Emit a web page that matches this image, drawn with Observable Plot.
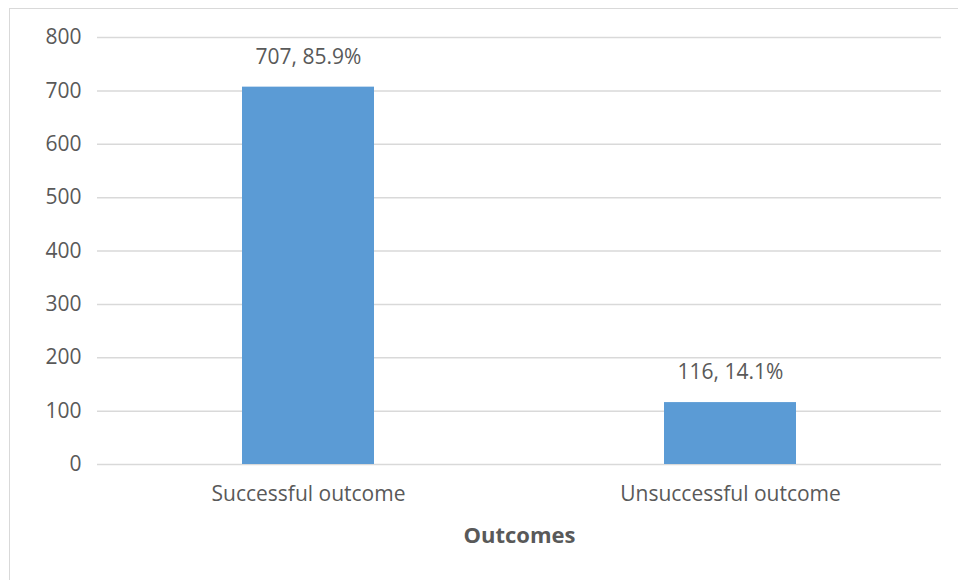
<!DOCTYPE html>
<html>
<head>
<meta charset="utf-8">
<script src="https://cdn.jsdelivr.net/npm/d3@7"></script>
<script src="https://cdn.jsdelivr.net/npm/@observablehq/plot@0.6"></script>
<style>
  html, body { margin: 0; padding: 0; background: #fff; }
  #wrap { position: relative; width: 958px; height: 580px; overflow: hidden; }
  #frame { position: absolute; left: 9px; top: 8px; width: 960px; height: 600px;
           border-top: 1.5px solid #d9d9d9; border-left: 1.5px solid #d9d9d9; box-sizing: border-box; }
  #chart { position: absolute; left: 0; top: 0; }
</style>
</head>
<body>
<div id="wrap"><div id="frame"></div><div id="chart"></div></div>
<script>
const categories = ["Successful outcome", "Unsuccessful outcome"];
const counts = [707, 116];
const percents = ["85.9%", "14.1%"];
const yTicks = [0, 100, 200, 300, 400, 500, 600, 700, 800];

const data = categories.map((c, i) => ({category: c, count: counts[i], label: `${counts[i]}, ${percents[i]}`}));

const font = "'Open Sans', sans-serif";
const textColor = "#595959";

const chart = Plot.plot({
  width: 958,
  height: 580,
  marginLeft: 97,
  marginRight: 17,
  marginTop: 37,
  marginBottom: 116,
  style: {fontFamily: font, fontSize: "21px", color: textColor, background: "transparent", overflow: "visible"},
  x: {domain: categories, paddingInner: 0.687, paddingOuter: 0.3435, label: null},
  y: {domain: [0, 800], ticks: yTicks, label: null},
  marks: [
    Plot.gridY(yTicks, {stroke: "#d9d9d9", strokeOpacity: 1, strokeWidth: 1.5}),
    Plot.barY(data, {x: "category", y: "count", fill: "#5b9bd5"}),
    Plot.axisY({ticks: yTicks, tickSize: 0, tickPadding: 16, fontSize: 21, fill: textColor, label: null}),
    Plot.axisX({tickSize: 0, tickPadding: 22, fontSize: 21, fill: textColor, label: null}),
    Plot.text(data, {x: "category", y: "count", text: "label", dy: -30, fontSize: 21, fill: textColor}),
    Plot.text(["Outcomes"], {frameAnchor: "bottom", dy: 78, fontSize: 22, fontWeight: "bold", fill: textColor})
  ]
});
document.getElementById("chart").appendChild(chart);
</script>
</body>
</html>
